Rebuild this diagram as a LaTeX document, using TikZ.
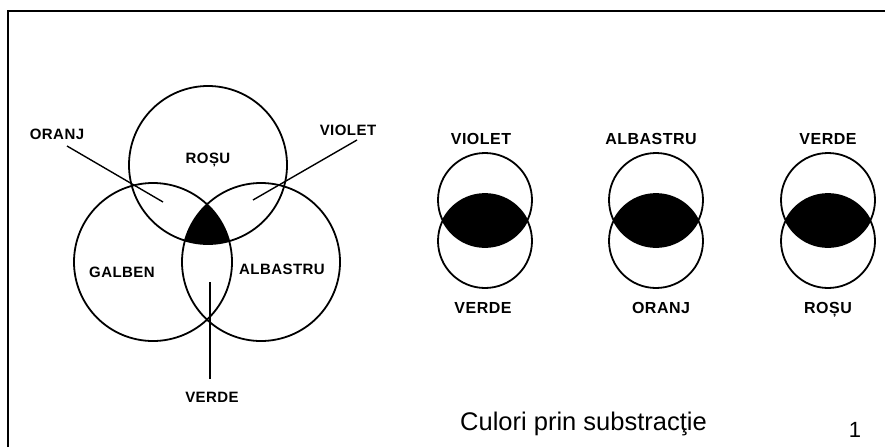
\documentclass[tikz,border=0pt]{standalone}
\usepackage{fontspec}
\setmainfont{Liberation Sans}
\newfontfamily\lblfont[LetterSpace=3.0]{Liberation Sans}

\begin{document}
\begin{tikzpicture}[x=1pt,y=-1pt,
	lbl/.style={font=\lblfont\bfseries\fontsize{15}{15}\selectfont,inner sep=0pt,anchor=base},
	lblw/.style={font=\lblfont\bfseries\fontsize{16}{16}\selectfont,inner sep=0pt,anchor=base},
	ring/.style={line width=1.8pt},
	lead/.style={line width=1.4pt}]
			
			\useasboundingbox (0,0) rectangle (885,447);
			\draw[line width=1.6pt] (8,447) -- (8,11) -- (885,11);
			
			% three big circles
			\coordinate (R) at (208,165);
			\coordinate (G) at (153,262);
			\coordinate (A) at (261,262);
			\begin{scope}
				\clip (R) circle (79pt);
				\clip (G) circle (79pt);
				\fill (A) circle (79pt);
			\end{scope}
			\draw[ring] (R) circle (79pt);
			\draw[ring] (G) circle (79pt);
			\draw[ring] (A) circle (79pt);
			%
			\node[lbl,name=rosu] at (208,163) {ROȘU};
			\node[lbl,name=galben] at (122,277) {GALBEN};
			\node[lbl,name=albastru] at (282,274) {ALBASTRU};
			\node[lbl,name=oranj] at (57,139) {ORANJ};
			\node[lbl,name=violet] at (348,135) {VIOLET};
			\node[lbl,name=verde] at (212,402) {VERDE};
			%
			\coordinate (oranj-a) at (67,146);
			\coordinate (oranj-b) at (163,202);
			\coordinate (violet-a) at (357,140);
			\coordinate (violet-b) at (253,200);
			\coordinate (verde-a) at (210,379);
			\coordinate (verde-b) at (210,282);
			\draw[lead] (oranj-a) -- (oranj-b);
			\draw[lead] (violet-a) -- (violet-b);
			\draw[lead] (verde-a) -- (verde-b);
			
			% pairs of circles
			\foreach \cx/\ux/\dx/\ttop/\tbot [count=\i] in {485/481/483/VIOLET/VERDE, 656/651/661/ALBASTRU/ORANJ, 828/828/828/VERDE/ROȘU}{
				\coordinate (up-\i) at (\cx,200);
				\coordinate (dn-\i) at (\cx,241);
				\begin{scope}
					\clip (up-\i) circle (47pt);
					\fill (dn-\i) circle (47pt);
				\end{scope}
				\draw[ring] (up-\i) circle (47pt);
				\draw[ring] (dn-\i) circle (47pt);
				\node[lblw,name=top-\i] at (\ux,144) {\ttop};
				\node[lblw,name=bot-\i] at (\dx,313) {\tbot};
			}
			
			\node[anchor=base west,inner sep=0pt,font=\fontsize{25.5}{26}\selectfont,name=caption] at (460,430) {Culori prin substracţie};
			\node[anchor=base,inner sep=0pt,font=\fontsize{22}{22}\selectfont,name=num] at (855,437) {1};
			
\end{tikzpicture}
\end{document}
